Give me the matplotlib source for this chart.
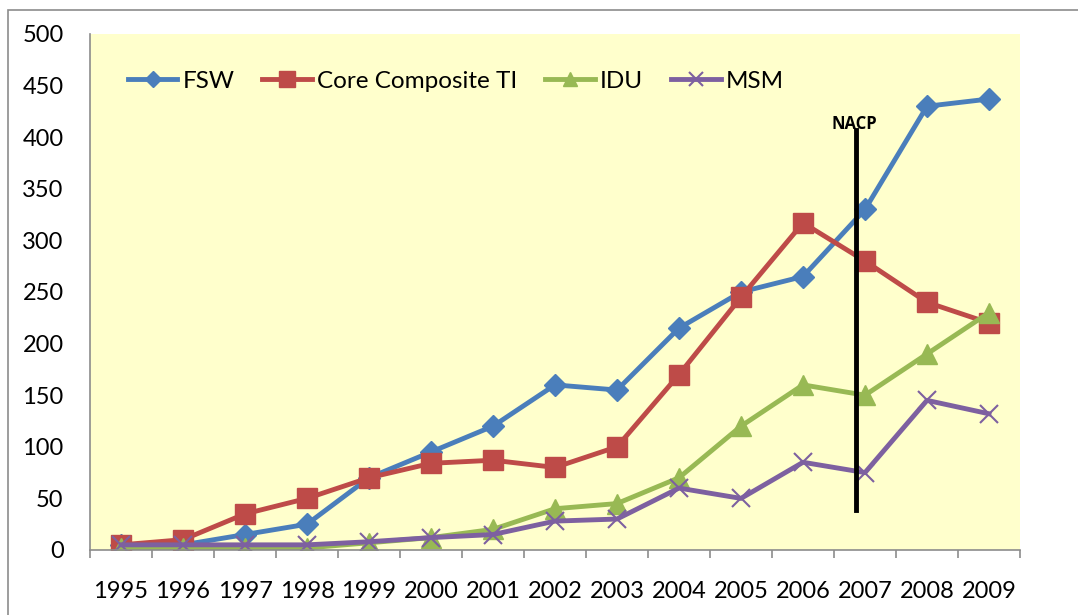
import matplotlib
matplotlib.use("Agg")
import matplotlib.pyplot as plt
from matplotlib.patches import Rectangle

years = ["1995", "1996", "1997", "1998", "1999", "2000", "2001", "2002",
         "2003", "2004", "2005", "2006", "2007", "2008", "2009"]
fsw = [5, 5, 15, 25, 70, 95, 120, 160, 155, 215, 250, 265, 330, 430, 437]
core_ti = [5, 10, 35, 50, 70, 84, 87, 80, 100, 170, 245, 317, 280, 240, 220]
idu = [2, 2, 2, 2, 7, 12, 20, 40, 45, 70, 120, 160, 150, 190, 230]
msm = [5, 5, 5, 5, 8, 12, 15, 28, 30, 60, 50, 85, 75, 145, 132]
series_names = ["FSW", "Core Composite TI", "IDU", "MSM"]
yticks = [0, 50, 100, 150, 200, 250, 300, 350, 400, 450, 500]

plt.rcParams['font.family'] = ['Lato', 'DejaVu Sans']

fig = plt.figure(figsize=(10.78, 6.15), dpi=100)
# outer chart frame
fig.patches.append(Rectangle((8 / 1078, -0.1), 1.2, 1 - 10 / 615 + 0.1,
                             transform=fig.transFigure, fill=False,
                             edgecolor='#8c8c8c', linewidth=1.2))

ax = fig.add_axes([90 / 1078, 1 - 550 / 615, 930 / 1078, 516 / 615])
ax.set_facecolor('#FFFFCC')

x = list(range(len(years)))
ax.plot(x, fsw, color='#4A7EBB', lw=3.5, marker='D', ms=11, label=series_names[0])
ax.plot(x, core_ti, color='#BE4B48', lw=3.5, marker='s', ms=15, label=series_names[1])
ax.plot(x, idu, color='#98B954', lw=3.5, marker='^', ms=14, label=series_names[2])
ax.plot(x, msm, color='#7D60A0', lw=3.5, marker='x', ms=13, mew=1.5, label=series_names[3])

# NACP marker line
ax.plot([11.86, 11.86], [39, 407], color='black', lw=3.5)
ax.text(11.83, 413, "NACP", ha='center', va='center', fontsize=12,
        fontweight='bold', family=['Open Sans', 'DejaVu Sans'])

ax.set_xlim(-0.5, 14.5)
ax.set_ylim(0, 500)
ax.set_yticks(yticks)
ax.set_yticklabels([str(v) for v in yticks])
ax.set_xticks(x)
ax.set_xticklabels(years)
ax.set_xticks([i - 0.5 for i in range(len(years) + 1)], minor=True)
ax.tick_params(axis='x', which='major', length=0, pad=22, labelsize=17)
ax.tick_params(axis='x', which='minor', length=6, color='#8c8c8c', width=1.2)
ax.tick_params(axis='y', length=0, pad=19, labelsize=17)

for s in ['top', 'right']:
    ax.spines[s].set_visible(False)
for s in ['left', 'bottom']:
    ax.spines[s].set_color('#8c8c8c')
    ax.spines[s].set_linewidth(1.2)

leg = ax.legend(loc='upper left', bbox_to_anchor=(0.03, 0.948), ncol=4, frameon=False,
                fontsize=17.5, handlelength=2.05, handletextpad=0.2, columnspacing=1.15,
                markerscale=0.75, borderaxespad=0)

fig.savefig("out.png", dpi=100)
